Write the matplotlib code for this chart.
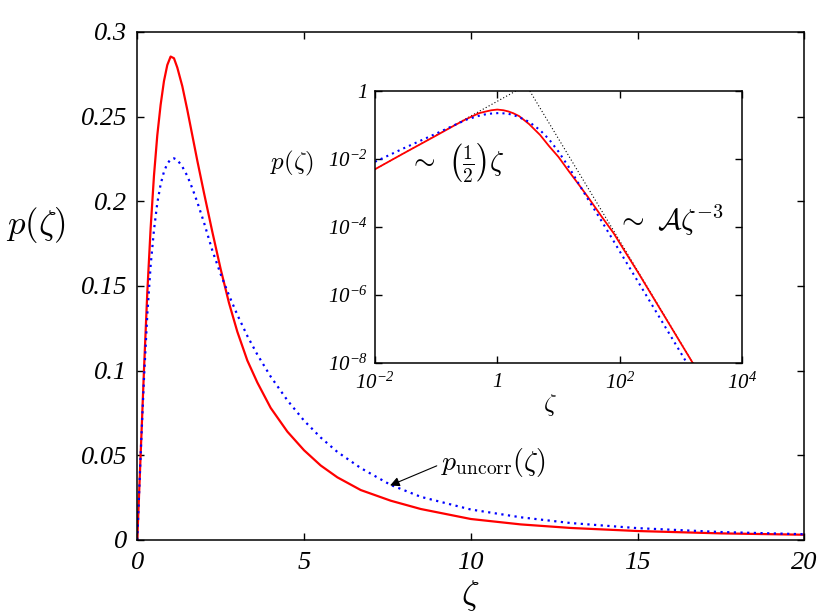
import matplotlib
matplotlib.use("Agg")
import matplotlib.pyplot as plt

# main panel: p(zeta) on linear axes
zeta = [0, 0.1, 0.2, 0.3, 0.4, 0.5, 0.6, 0.7, 0.8, 0.9, 1.0, 1.1, 1.2, 1.35, 1.5, 1.65,
        1.8, 2.0, 2.25, 2.5, 2.75, 3.0, 3.3, 3.6, 4.0, 4.5, 5.0, 5.5, 6.0, 6.7, 7.6, 8.5,
        10.0, 11.5, 13.0, 15.0, 17.5, 20.0]
p_full = [0, 0.05, 0.10, 0.146, 0.184, 0.215, 0.239, 0.257, 0.271, 0.2805, 0.2855, 0.2845,
          0.279, 0.268, 0.254, 0.239, 0.224, 0.205, 0.182, 0.160, 0.140, 0.123, 0.106,
          0.093, 0.078, 0.064, 0.053, 0.044, 0.037, 0.0295, 0.0232, 0.0183, 0.0124,
          0.0092, 0.0071, 0.0053, 0.0039, 0.0031]
p_uncorr = [0, 0.05, 0.095, 0.133, 0.162, 0.183, 0.199, 0.210, 0.2175, 0.2222, 0.2248,
            0.2254, 0.2245, 0.2205, 0.215, 0.2077, 0.1995, 0.1875, 0.171, 0.157, 0.1445,
            0.133, 0.1205, 0.1095, 0.0965, 0.0825, 0.0705, 0.0605, 0.052, 0.0425, 0.0325,
            0.0255, 0.018, 0.0134, 0.0100, 0.0070, 0.0047, 0.0034]

# inset: same curves on log-log axes
zeta_log = [0.01, 0.03, 0.1, 0.2, 0.3, 0.5, 0.66, 0.8, 1.0, 1.26, 1.5, 1.82, 2.27, 2.66,
            3.3, 5, 7, 10, 15, 20, 30, 50, 80, 120, 200, 500, 1000, 1600]
p_full_log = [0.005, 0.015, 0.049, 0.098, 0.145, 0.2225, 0.252, 0.272, 0.285, 0.272,
              0.252, 0.2225, 0.183, 0.146, 0.107, 0.051, 0.024, 0.0115, 0.0042, 0.0021,
              7.8e-4, 2.1e-4, 6.5e-5, 2.0e-5, 4.6e-6, 3.0e-7, 3.8e-8, 9.4e-9]
zeta_log_u = [0.01, 0.03, 0.1, 0.2, 0.32, 0.48, 0.61, 0.78, 1.07, 1.45, 1.72, 2.04, 2.36,
              2.74, 3.3, 5, 7, 10, 15, 20, 30, 50, 80, 120, 200, 500, 1000, 1300]
p_uncorr_log = [0.0083, 0.021, 0.056, 0.1, 0.146, 0.183, 0.203, 0.2166, 0.2254, 0.2166,
                0.203, 0.183, 0.1635, 0.146, 0.124, 0.0705, 0.038, 0.0165, 0.0055, 0.0023,
                6.8e-4, 1.55e-4, 3.8e-5, 1.12e-5, 2.45e-6, 1.58e-7, 1.98e-8, 9.0e-9]
# asymptotes ~ zeta/2 and ~ A zeta^-3 (end points)
small_zeta = [0.01, 2.0]
small_p = [0.005, 1.0]
large_zeta = [3.4, 1600]
large_p = [1.0, 9.6e-9]

main_xticks = [0, 5, 10, 15, 20]
main_yticks = [0, 0.05, 0.1, 0.15, 0.2, 0.25, 0.3]
main_ylabels = ["0", "0.05", "0.1", "0.15", "0.2", "0.25", "0.3"]
inset_xticks = [1e-2, 1, 1e2, 1e4]
inset_xlabels = [r"$10^{-2}$", "1", r"$10^{2}$", r"$10^{4}$"]
inset_yticks = [1e-8, 1e-6, 1e-4, 1e-2, 1]
inset_ylabels = [r"$10^{-8}$", r"$10^{-6}$", r"$10^{-4}$", r"$10^{-2}$", "1"]

plt.rcParams["font.family"] = "Liberation Serif"
plt.rcParams["font.style"] = "italic"
plt.rcParams["mathtext.fontset"] = "custom"
plt.rcParams["mathtext.rm"] = "Liberation Serif:italic"
plt.rcParams["mathtext.it"] = "Liberation Serif:italic"

RED = "#ff0000"
BLUE = "#0000ff"
dots = (0, (1, 2))

fig = plt.figure(figsize=(8.3, 6.13), dpi=100)
ax = fig.add_axes([0.1654, 0.1191, 0.8036, 0.8287])

ax.plot(zeta, p_full, color=RED, lw=1.6, solid_joinstyle="round")
ax.plot(zeta, p_uncorr, color=BLUE, lw=1.6, linestyle=dots)
ax.set_xlim(0, 20)
ax.set_ylim(0, 0.3)
ax.set_xticks(main_xticks)
ax.set_xticklabels([str(t) for t in main_xticks])
ax.set_yticks(main_yticks)
ax.set_yticklabels(main_ylabels)
ax.tick_params(direction="in", top=True, right=True, length=5, width=1, labelsize=19)
ax.tick_params(axis="y", pad=7)
ax.tick_params(axis="x", pad=9)
for s in ax.spines.values():
    s.set_linewidth(1.1)

ax.set_xlabel(r"$\zeta$", fontsize=25, math_fontfamily="cm", va="center")
ax.xaxis.set_label_coords(0.499, -0.11)
ax.set_ylabel(r"$p(\zeta)$", fontsize=25, rotation=0, math_fontfamily="cm", va="center")
ax.yaxis.set_label_coords(-0.153, 0.62)

ax.annotate("", xy=(7.58, 0.0322), xytext=(8.98, 0.0438),
            arrowprops=dict(arrowstyle="-|>", color="black", lw=0.8, mutation_scale=14,
                            shrinkA=0, shrinkB=0))
ax.text(9.1, 0.046, r"$p_{\rm uncorr}(\zeta)$", fontsize=20, math_fontfamily="cm",
        ha="left", va="center")

# inset
ins = fig.add_axes([0.4518, 0.4078, 0.4422, 0.4437])
ins.set_xscale("log")
ins.set_yscale("log")
ins.plot(small_zeta, small_p, color="black", lw=0.8, linestyle=dots)
ins.plot(large_zeta, large_p, color="black", lw=0.8, linestyle=dots)
ins.plot(zeta_log, p_full_log, color=RED, lw=1.3)
ins.plot(zeta_log_u, p_uncorr_log, color=BLUE, lw=1.5, linestyle=dots)
ins.set_xlim(1e-2, 1e4)
ins.set_ylim(1e-8, 1)
ins.set_xticks(inset_xticks)
ins.set_xticklabels(inset_xlabels)
ins.set_yticks(inset_yticks)
ins.set_yticklabels(inset_ylabels)
ins.minorticks_off()
ins.tick_params(direction="in", top=True, right=True, length=5, width=1, labelsize=15)
ins.tick_params(axis="y", pad=5)
ins.tick_params(axis="x", pad=7)
for s in ins.spines.values():
    s.set_linewidth(1.1)

ins.set_xlabel(r"$\zeta$", fontsize=18, math_fontfamily="cm", va="center")
ins.xaxis.set_label_coords(0.477, -0.155)
ins.set_ylabel(r"$p(\zeta)$", fontsize=18, rotation=0, math_fontfamily="cm", va="center")
ins.yaxis.set_label_coords(-0.226, 0.735)

ins.text(0.036, 0.0081, r"$\sim\ \left(\frac{1}{2}\right)\zeta$", fontsize=20,
         math_fontfamily="cm", ha="left", va="center")
ins.text(88, 1.6e-4, r"$\sim\ \mathcal{A}\zeta^{-3}$", fontsize=21,
         math_fontfamily="cm", ha="left", va="center")

fig.savefig("out.png", dpi=100)
